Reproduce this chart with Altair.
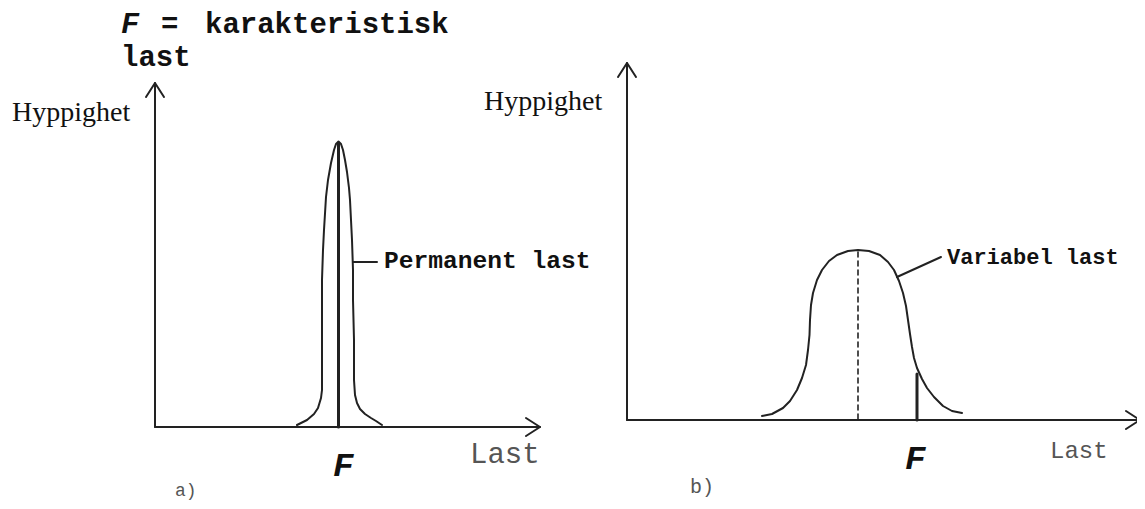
import altair as alt
import pandas as pd

# ---- data (diagram units: horizontal = Last, vertical = Hyppighet, page-pixel frame) ----
# Panel a) permanent load: narrow distribution
CURVE_A_LAST = [297, 307, 314, 318, 321, 322, 322, 322, 322, 323, 324, 326, 328, 331, 334, 336, 338.5,
                341, 343, 345, 347, 349, 350, 351, 352, 353, 353, 354, 354, 355, 357, 360, 365, 371, 376, 382]
CURVE_A_FREQ = [425, 420, 414, 408, 398, 390, 360, 320, 280, 250, 230, 197, 180, 163, 150, 144, 141.5,
                144, 150, 160, 172, 188, 200, 220, 240, 270, 300, 340, 380, 395, 403, 409, 414, 418, 421, 425]
# Panel b) variable load: wide distribution
CURVE_B_LAST = [762, 772, 783, 790, 797, 802, 806, 808, 809.5, 810, 811, 813, 817, 822, 829, 837, 848, 858,
                869, 880, 888, 894, 899, 903, 906, 908, 910, 912, 914, 917, 922, 927, 934, 943, 952, 962]
CURVE_B_FREQ = [416, 414, 408, 401, 390, 378, 365, 350, 335, 320, 305, 293, 280, 270, 261, 255, 251, 250,
                251, 255, 262, 270, 281, 293, 306, 320, 334, 347, 358, 368, 379, 388, 397, 406, 411, 413]

# axes (with arrow heads) as polylines
AXES = {
    "a_y": ([155, 155], [427, 83]),
    "a_x": ([155, 540], [427, 427]),
    "a_y_head": ([146, 155, 164], [97, 83, 97]),
    "a_x_head": ([526, 540, 526], [418, 427, 436]),
    "b_y": ([627, 627], [420, 63]),
    "b_x": ([627, 1140], [420, 420]),
    "b_y_head": ([618, 627, 636], [77, 63, 77]),
    "b_x_head": ([1126, 1140, 1126], [411, 420, 429]),
}
LEADERS = {
    "a_lead": ([353, 377], [262, 262]),
    "b_lead": ([897, 941], [277, 257]),
}
F_MARKS = {
    "a_F": ([338.5, 338.5], [143, 427]),
    "b_F": ([917, 917], [374, 420]),
}
MEAN_B = {"b_mean": ([858, 858], [252, 420])}

# texts
SERIF_TXT = ["Hyppighet", "Hyppighet"]
SERIF_X = [12, 484]
SERIF_Y = [121, 110]

TITLE_TXT = ["=", "karakteristisk", "last"]
TITLE_X = [161, 205, 121]
TITLE_Y = [33, 33, 66]

F_TXT = ["F", "F", "F"]
F_X = [121, 333, 905]
F_Y = [33, 476, 469]
F_SIZE = [30, 34, 34]

LABEL_TXT = ["Permanent last", "Variabel last"]
LABEL_X = [384, 947]
LABEL_Y = [268, 264]
LABEL_SIZE = [24.6, 22]

GRAY_TXT = ["Last", "Last", "a)", "b)"]
GRAY_X = [470, 1050, 175, 690]
GRAY_Y = [463, 458, 496, 493]
GRAY_SIZE = [29, 24, 18, 20]


def polylines(d):
    rows = []
    for name, (xs, ys) in d.items():
        for i, (x, y) in enumerate(zip(xs, ys)):
            rows.append({"seg": name, "i": i, "x": x, "y": y})
    return pd.DataFrame(rows)


curves = pd.concat([
    pd.DataFrame({"seg": "curve_a", "i": range(len(CURVE_A_LAST)), "x": CURVE_A_LAST, "y": CURVE_A_FREQ}),
    pd.DataFrame({"seg": "curve_b", "i": range(len(CURVE_B_LAST)), "x": CURVE_B_LAST, "y": CURVE_B_FREQ}),
    polylines(LEADERS),
])

X = alt.X("x:Q", scale=alt.Scale(domain=[8, 1137]), axis=None)
Y = alt.Y("y:Q", scale=alt.Scale(domain=[8, 501], reverse=True), axis=None)
INK = "#222222"


def line_layer(df, width, dash=None):
    kw = dict(color=INK, strokeWidth=width, clip=False, strokeCap="round", strokeJoin="round", interpolate="linear")
    if dash:
        kw["strokeDash"] = dash
    return alt.Chart(df).mark_line(**kw).encode(x=X, y=Y, detail="seg:N", order="i:Q")


def text_layer(txt, xs, ys, sizes, font, weight="normal", style="normal", color="#000000"):
    df = pd.DataFrame({"t": txt, "x": xs, "y": ys, "s": sizes})
    return alt.Chart(df).mark_text(
        align="left", baseline="alphabetic", font=font, fontWeight=weight, fontStyle=style,
        color=color, clip=False
    ).encode(x=X, y=Y, text="t:N", size=alt.Size("s:Q", scale=None, legend=None))


layers = [
    line_layer(polylines(AXES), 2),
    line_layer(curves, 2),
    line_layer(polylines(F_MARKS), 3),
    line_layer(polylines(MEAN_B), 1.6, dash=[5, 4]),
    text_layer(SERIF_TXT, SERIF_X, SERIF_Y, [28, 28], "Liberation Serif", color="#111111"),
    text_layer(TITLE_TXT, TITLE_X, TITLE_Y, [29, 29, 29], "Liberation Mono", weight="bold", color="#111111"),
    text_layer(F_TXT, F_X, F_Y, F_SIZE, "Liberation Mono", weight="bold", style="italic", color="#111111"),
    text_layer(LABEL_TXT, LABEL_X, LABEL_Y, LABEL_SIZE, "Liberation Mono", weight="bold", color="#111111"),
    text_layer(GRAY_TXT, GRAY_X, GRAY_Y, GRAY_SIZE, "Liberation Mono", color="#555555"),
]

chart = alt.layer(*layers).properties(
    width=1129, height=493, padding=0,
    autosize=alt.AutoSizeParams(type="none"),
    background="white",
).configure_view(stroke=None)

chart.save("out.html", embed_options={"renderer": "svg", "actions": False})
